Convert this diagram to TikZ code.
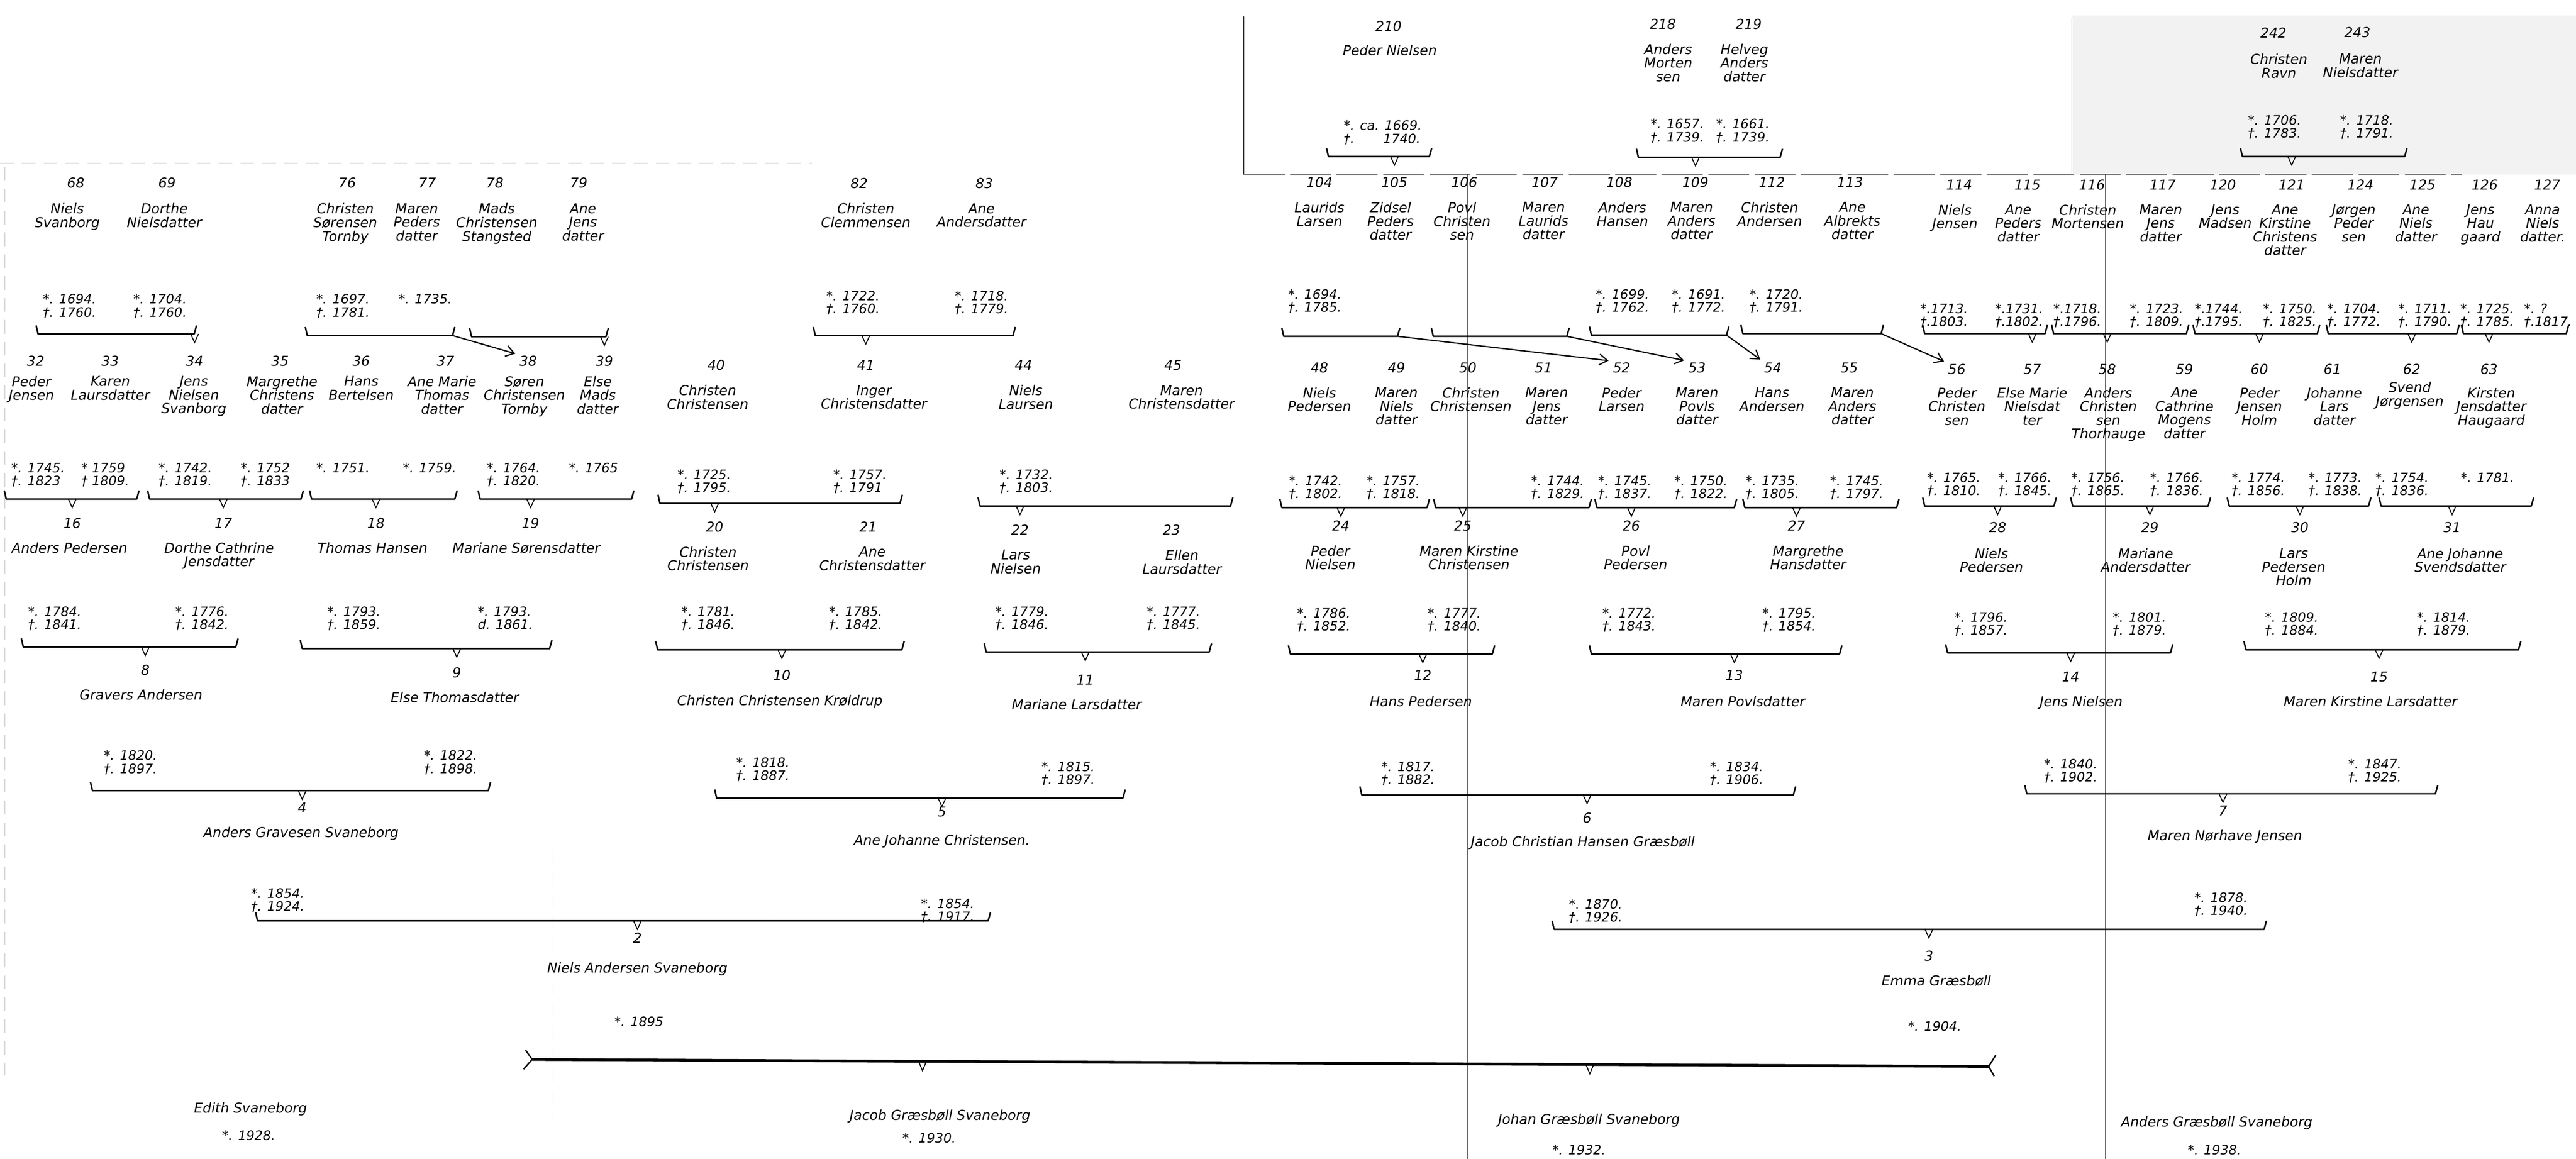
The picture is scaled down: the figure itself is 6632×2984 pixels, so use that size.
\documentclass[tikz,border=0pt]{standalone}
\usepackage{fontspec}
\setmainfont{DejaVu Sans}[ItalicFont={DejaVu Sans Oblique}]
\usetikzlibrary{arrows.meta}

\tikzset{
  num/.style={font=\fontsize{10}{10}\selectfont\itshape, inner sep=1pt},
  who/.style={font=\fontsize{10}{10}\selectfont\itshape, align=center, anchor=north, inner sep=0pt},
  dates/.style={font=\fontsize{9.5}{9.5}\selectfont\itshape, align=left, anchor=north, inner sep=0pt},
  bar/.style={line width=1.1pt, line join=round},
  vee/.style={line width=0.7pt},
  kin/.style={line width=0.9pt, -{Straight Barb[length=6pt,width=8pt]}, shorten >=2pt},
  sheet/.style={black!75, line width=0.6pt},
  fold/.style={black!25, line width=0.4pt, dash pattern=on 10pt off 6pt}
}

% couple bracket: left end, right end, height, child
\newcommand{\couple}[4]{%
  \draw[bar] (#1,#3) ++(-5,-22) -- ++(5,22) -- (#2,#3) -- ++(6,-22);
  \draw[vee] (#4 |- 0,#3) ++(-10,0) -- ++(10,22) -- ++(10,-22);}

\begin{document}
\begin{tikzpicture}[x={(0.01cm,0)}, y={(0,-0.01cm)}]
    \useasboundingbox (0,0) rectangle (6632,2984);
    \fill[white] (0,0) rectangle (6632,2984);
    % sheet edges and folds
    \fill[black!5] (5334,40) rectangle (6632,449);
    \draw[sheet] (3202,42) -- (3202,449);
    \draw[sheet] (5334,46) -- (5334,449);
    \draw[sheet, dash pattern=on 30pt off 4pt] (3202,449) -- (6337,449);
    \draw[sheet] (3778,449) -- (3778,2984);
    \draw[sheet] (5421,449) -- (5421,2984);
    \draw[fold, black!15] (0,420) -- (2090,420);
    \draw[fold] (12,430) -- (12,2770);
    \draw[fold] (1995,506) -- (1995,2660);
    \draw[fold] (1424,2190) -- (1424,2878);

    % 210, 218-219, 242-243
    \node[num] (n210) at (3575,67) {210};
    \node[who] (p210) at (3578,115) {Peder Nielsen};
    \node[dates] (d210) at (3560,310) {*. ca. 1669.\\†. \phantom{ca.} 1740.};
    \node[num] (n218) at (4281,62) {218};
    \node[num] (n219) at (4502,62) {219};
    \node[who] (p218) at (4295,112) {Anders\\Morten\\sen};
    \node[who] (p219) at (4491,112) {Helveg\\Anders\\datter};
    \node[dates] (d218) at (4318,306) {*. 1657.\\†. 1739.};
    \node[dates] (d219) at (4487,306) {*. 1661.\\†. 1739.};
    \node[num] (n242) at (5853,84) {242};
    \node[num] (n243) at (6069,84) {243};
    \node[who] (p242) at (5867,138) {Christen\\Ravn};
    \node[who] (p243) at (6077,138) {Maren\\Nielsdatter};
    \node[dates] (d242) at (5856,296) {*. 1706.\\†. 1783.};
    \node[dates] (d243) at (6093,296) {*. 1718.\\†. 1791.};

    % 68-127
    \node[num] (n68) at (195,470) {68};
    \node[num] (n69) at (430,470) {69};
    \node[num] (n76) at (894,470) {76};
    \node[num] (n77) at (1100,470) {77};
    \node[num] (n78) at (1274,470) {78};
    \node[num] (n79) at (1490,470) {79};
    \node[who] (p68) at (173,523) {Niels\\Svanborg};
    \node[who] (p69) at (423,523) {Dorthe\\Nielsdatter};
    \node[who] (p76) at (889,523) {Christen\\Sørensen\\Tornby};
    \node[who] (p77) at (1073,523) {Maren\\Peders\\datter};
    \node[who] (p78) at (1279,523) {Mads\\Christensen\\Stangsted};
    \node[who] (p79) at (1501,523) {Ane\\Jens\\datter};
    \node[dates] (d68) at (179,757) {*. 1694.\\†. 1760.};
    \node[dates] (d69) at (412,757) {*. 1704.\\†. 1760.};
    \node[dates] (d76) at (883,757) {*. 1697.\\†. 1781.};
    \node[dates] (d77) at (1095,757) {*. 1735.};

    \node[num] (n82) at (2212,472) {82};
    \node[num] (n83) at (2534,472) {83};
    \node[who] (p82) at (2229,523) {Christen\\Clemmensen};
    \node[who] (p83) at (2527,523) {Ane\\Andersdatter};
    \node[dates] (d82) at (2196,748) {*. 1722.\\†. 1760.};
    \node[dates] (d83) at (2527,748) {*. 1718.\\†. 1779.};

    \node[num] (n104) at (3397,469) {104};
    \node[num] (n105) at (3590,469) {105};
    \node[num] (n106) at (3770,469) {106};
    \node[num] (n107) at (3977,469) {107};
    \node[num] (n108) at (4169,469) {108};
    \node[num] (n109) at (4365,469) {109};
    \node[num] (n112) at (4562,469) {112};
    \node[num] (n113) at (4763,469) {113};
    \node[who] (p104) at (3397,520) {Laurids\\Larsen};
    \node[who] (p105) at (3580,520) {Zidsel\\Peders\\datter};
    \node[who] (p106) at (3764,520) {Povl\\Christen\\sen};
    \node[who] (p107) at (3974,520) {Maren\\Laurids\\datter};
    \node[who] (p108) at (4177,520) {Anders\\Hansen};
    \node[who] (p109) at (4355,520) {Maren\\Anders\\datter};
    \node[who] (p112) at (4556,520) {Christen\\Andersen};
    \node[who] (p113) at (4769,520) {Ane\\Albrekts\\datter};
    \node[dates] (d104) at (3385,744) {*. 1694.\\†. 1785.};
    \node[dates] (d108) at (4177,744) {*. 1699.\\†. 1762.};
    \node[dates] (d109) at (4373,744) {*. 1691.\\†. 1772.};
    \node[dates] (d112) at (4573,744) {*. 1720.\\†. 1791.};

    \node[num] (n114) at (5044,476) {114};
    \node[num] (n115) at (5220,476) {115};
    \node[num] (n116) at (5386,476) {116};
    \node[num] (n117) at (5568,476) {117};
    \node[num] (n120) at (5723,476) {120};
    \node[num] (n121) at (5900,476) {121};
    \node[num] (n124) at (6077,476) {124};
    \node[num] (n125) at (6237,476) {125};
    \node[num] (n126) at (6397,476) {126};
    \node[num] (n127) at (6558,476) {127};
    \node[who] (p114) at (5033,526) {Niels\\Jensen};
    \node[who] (p115) at (5196,526) {Ane\\Peders\\datter};
    \node[who] (p116) at (5375,526) {Christen\\Mortensen};
    \node[who] (p117) at (5563,526) {Maren\\Jens\\datter};
    \node[who] (p120) at (5729,526) {Jens\\Madsen};
    \node[who] (p121) at (5883,526) {Ane\\Kirstine\\Christens\\datter};
    \node[who] (p124) at (6060,526) {Jørgen\\Peder\\sen};
    \node[who] (p125) at (6220,526) {Ane\\Niels\\datter};
    \node[who] (p126) at (6386,526) {Jens\\Hau\\gaard};
    \node[who] (p127) at (6546,526) {Anna\\Niels\\datter.};
    \node[dates] (d114) at (5005,782) {*.1713.\\†.1803.};
    \node[dates] (d115) at (5198,782) {*.1731.\\†.1802.};
    \node[dates] (d116) at (5348,782) {*.1718.\\†.1796.};
    \node[dates] (d117) at (5552,782) {*. 1723.\\†. 1809.};
    \node[dates] (d120) at (5712,782) {*.1744.\\†.1795.};
    \node[dates] (d121) at (5895,782) {*. 1750.\\†. 1825.};
    \node[dates] (d124) at (6060,782) {*. 1704.\\†. 1772.};
    \node[dates] (d125) at (6243,782) {*. 1711.\\†. 1790.};
    \node[dates] (d126) at (6403,782) {*. 1725.\\†. 1785.};
    \node[dates] (d127) at (6560,782) {*. ?\\†.1817.};

    % 32-63
    \node[num] (n32) at (92,930) {32};
    \node[num] (n33) at (284,930) {33};
    \node[num] (n34) at (501,930) {34};
    \node[num] (n35) at (721,930) {35};
    \node[num] (n36) at (930,930) {36};
    \node[num] (n37) at (1147,930) {37};
    \node[num] (n38) at (1360,930) {38};
    \node[num] (n39) at (1556,930) {39};
    \node[who] (p32) at (81,968) {Peder\\Jensen};
    \node[who] (p33) at (284,968) {Karen\\Laursdatter};
    \node[who] (p34) at (499,968) {Jens\\Nielsen\\Svanborg};
    \node[who] (p35) at (726,968) {Margrethe\\Christens\\datter};
    \node[who] (p36) at (930,968) {Hans\\Bertelsen};
    \node[who] (p37) at (1138,968) {Ane Marie\\Thomas\\datter};
    \node[who] (p38) at (1350,968) {Søren\\Christensen\\Tornby};
    \node[who] (p39) at (1539,968) {Else\\Mads\\datter};
    \node[dates] (d32) at (98,1191) {*. 1745.\\†. 1823};
    \node[dates] (d33) at (271,1191) {* 1759\\† 1809.};
    \node[dates] (d34) at (477,1191) {*. 1742.\\†. 1819.};
    \node[dates] (d35) at (683,1191) {*. 1752\\†. 1833};
    \node[dates] (d36) at (883,1191) {*. 1751.};
    \node[dates] (d37) at (1106,1191) {*. 1759.};
    \node[dates] (d38) at (1322,1191) {*. 1764.\\†. 1820.};
    \node[dates] (d39) at (1528,1191) {*. 1765};

    \node[num] (n40) at (1844,940) {40};
    \node[num] (n41) at (2229,940) {41};
    \node[num] (n44) at (2635,940) {44};
    \node[num] (n45) at (3020,940) {45};
    \node[who] (p40) at (1822,991) {Christen\\Christensen};
    \node[who] (p41) at (2250,991) {Inger\\Christensdatter};
    \node[who] (p44) at (2641,991) {Niels\\Laursen};
    \node[who] (p45) at (3042,991) {Maren\\Christensdatter};
    \node[dates] (d40) at (1813,1209) {*. 1725.\\†. 1795.};
    \node[dates] (d41) at (2214,1209) {*. 1757.\\†. 1791};
    \node[dates] (d44) at (2642,1209) {*. 1732.\\†. 1803.};

    \node[num] (n48) at (3397,947) {48};
    \node[num] (n49) at (3595,947) {49};
    \node[num] (n50) at (3779,947) {50};
    \node[num] (n51) at (3974,947) {51};
    \node[num] (n52) at (4175,947) {52};
    \node[num] (n53) at (4369,947) {53};
    \node[num] (n54) at (4564,947) {54};
    \node[num] (n55) at (4761,947) {55};
    \node[who] (p48) at (3397,997) {Niels\\Pedersen};
    \node[who] (p49) at (3595,997) {Maren\\Niels\\datter};
    \node[who] (p50) at (3787,997) {Christen\\Christensen};
    \node[who] (p51) at (3982,997) {Maren\\Jens\\datter};
    \node[who] (p52) at (4175,997) {Peder\\Larsen};
    \node[who] (p53) at (4369,997) {Maren\\Povls\\datter};
    \node[who] (p54) at (4562,997) {Hans\\Andersen};
    \node[who] (p55) at (4769,997) {Maren\\Anders\\datter};
    \node[dates] (d48) at (3387,1224) {*. 1742.\\†. 1802.};
    \node[dates] (d49) at (3587,1224) {*. 1757.\\†. 1818.};
    \node[dates] (d51) at (4010,1224) {*. 1744.\\†. 1829.};
    \node[dates] (d52) at (4183,1224) {*. 1745.\\†. 1837.};
    \node[dates] (d53) at (4379,1224) {*. 1750.\\†. 1822.};
    \node[dates] (d54) at (4563,1224) {*. 1735.\\†. 1805.};
    \node[dates] (d55) at (4780,1224) {*. 1745.\\†. 1797.};

    \node[num] (n56) at (5038,951) {56};
    \node[num] (n57) at (5232,951) {57};
    \node[num] (n58) at (5425,951) {58};
    \node[num] (n59) at (5624,951) {59};
    \node[num] (n60) at (5817,951) {60};
    \node[num] (n61) at (6005,951) {61};
    \node[num] (n62) at (6209,951) {62};
    \node[num] (n63) at (6408,951) {63};
    \node[who] (p56) at (5038,997) {Peder\\Christen\\sen};
    \node[who] (p57) at (5232,997) {Else Marie\\Nielsdat\\ter};
    \node[who] (p58) at (5428,997) {Anders\\Christen\\sen\\Thorhauge};
    \node[who] (p59) at (5624,997) {Ane\\Cathrine\\Mogens\\datter};
    \node[who] (p60) at (5817,997) {Peder\\Jensen\\Holm};
    \node[who] (p61) at (6010,997) {Johanne\\Lars\\datter};
    \node[who] (p62) at (6204,983) {Svend\\Jørgensen};
    \node[who] (p63) at (6414,997) {Kirsten\\Jensdatter\\Haugaard};
    \node[dates] (d56) at (5030,1217) {*. 1765.\\†. 1810.};
    \node[dates] (d57) at (5213,1217) {*. 1766.\\†. 1845.};
    \node[dates] (d58) at (5401,1217) {*. 1756.\\†. 1865.};
    \node[dates] (d59) at (5604,1217) {*. 1766.\\†. 1836.};
    \node[dates] (d60) at (5814,1217) {*. 1774.\\†. 1856.};
    \node[dates] (d61) at (6012,1217) {*. 1773.\\†. 1838.};
    \node[dates] (d62) at (6184,1217) {*. 1754.\\†. 1836.};
    \node[dates] (d63) at (6404,1217) {*. 1781.};

    % 16-31
    \node[num] (n16) at (186,1347) {16};
    \node[num] (n17) at (575,1347) {17};
    \node[num] (n18) at (968,1347) {18};
    \node[num] (n19) at (1366,1347) {19};
    \node[who] (p16) at (179,1396) {Anders Pedersen};
    \node[who] (p17) at (564,1396) {Dorthe Cathrine\\Jensdatter};
    \node[who] (p18) at (959,1396) {Thomas Hansen};
    \node[who] (p19) at (1355,1396) {Mariane Sørensdatter};
    \node[dates] (d16) at (141,1561) {*. 1784.\\†. 1841.};
    \node[dates] (d17) at (520,1561) {*. 1776.\\†. 1842.};
    \node[dates] (d18) at (911,1561) {*. 1793.\\†. 1859.};
    \node[dates] (d19) at (1301,1561) {*. 1793.\\d. 1861.};

    \node[num] (n20) at (1840,1357) {20};
    \node[num] (n21) at (2235,1357) {21};
    \node[num] (n22) at (2626,1364) {22};
    \node[num] (n23) at (3016,1364) {23};
    \node[who] (p20) at (1823,1407) {Christen\\Christensen};
    \node[who] (p21) at (2246,1407) {Ane\\Christensdatter};
    \node[who] (p22) at (2615,1415) {Lars\\Nielsen};
    \node[who] (p23) at (3043,1415) {Ellen\\Laursdatter};
    \node[dates] (d20) at (1823,1561) {*. 1781.\\†. 1846.};
    \node[dates] (d21) at (2203,1561) {*. 1785.\\†. 1842.};
    \node[dates] (d22) at (2631,1561) {*. 1779.\\†. 1846.};
    \node[dates] (d23) at (3021,1561) {*. 1777.\\†. 1845.};

    \node[num] (n24) at (3452,1354) {24};
    \node[num] (n25) at (3766,1354) {25};
    \node[num] (n26) at (4200,1354) {26};
    \node[num] (n27) at (4625,1354) {27};
    \node[who] (p24) at (3425,1404) {Peder\\Nielsen};
    \node[who] (p25) at (3782,1404) {Maren Kirstine\\Christensen};
    \node[who] (p26) at (4211,1404) {Povl\\Pedersen};
    \node[who] (p27) at (4655,1404) {Margrethe\\Hansdatter};
    \node[dates] (d24) at (3408,1565) {*. 1786.\\†. 1852.};
    \node[dates] (d25) at (3744,1565) {*. 1777.\\†. 1840.};
    \node[dates] (d26) at (4194,1565) {*. 1772.\\†. 1843.};
    \node[dates] (d27) at (4606,1565) {*. 1795.\\†. 1854.};

    \node[num] (n28) at (5143,1358) {28};
    \node[num] (n29) at (5535,1358) {29};
    \node[num] (n30) at (5921,1358) {30};
    \node[num] (n31) at (6313,1358) {31};
    \node[who] (p28) at (5127,1411) {Niels\\Pedersen};
    \node[who] (p29) at (5524,1411) {Mariane\\Andersdatter};
    \node[who] (p30) at (5905,1411) {Lars\\Pedersen\\Holm};
    \node[who] (p31) at (6334,1411) {Ane Johanne\\Svendsdatter};
    \node[dates] (d28) at (5100,1576) {*. 1796.\\†. 1857.};
    \node[dates] (d29) at (5508,1576) {*. 1801.\\†. 1879.};
    \node[dates] (d30) at (5900,1576) {*. 1809.\\†. 1884.};
    \node[dates] (d31) at (6291,1576) {*. 1814.\\†. 1879.};

    % 8-15
    \node[num] (n8) at (374,1725) {8};
    \node[num] (n9) at (1176,1732) {9};
    \node[num] (n10) at (2013,1739) {10};
    \node[num] (n11) at (2794,1750) {11};
    \node[num] (n12) at (3663,1739) {12};
    \node[num] (n13) at (4465,1739) {13};
    \node[num] (n14) at (5331,1743) {14};
    \node[num] (n15) at (6125,1743) {15};
    \node[who] (p8) at (363,1774) {Gravers Andersen};
    \node[who] (p9) at (1171,1781) {Else Thomasdatter};
    \node[who] (p10) at (2008,1789) {Christen Christensen Krøldrup};
    \node[who] (p11) at (2772,1800) {Mariane Larsdatter};
    \node[who] (p12) at (3658,1792) {Hans Pedersen};
    \node[who] (p13) at (4487,1792) {Maren Povlsdatter};
    \node[who] (p14) at (5358,1792) {Jens Nielsen};
    \node[who] (p15) at (6103,1792) {Maren Kirstine Larsdatter};
    \node[dates] (d8) at (336,1932) {*. 1820.\\†. 1897.};
    \node[dates] (d9) at (1160,1932) {*. 1822.\\†. 1898.};
    \node[dates] (d10) at (1964,1950) {*. 1818.\\†. 1887.};
    \node[dates] (d11) at (2750,1961) {*. 1815.\\†. 1897.};
    \node[dates] (d12) at (3625,1961) {*. 1817.\\†. 1882.};
    \node[dates] (d13) at (4471,1961) {*. 1834.\\†. 1906.};
    \node[dates] (d14) at (5331,1954) {*. 1840.\\†. 1902.};
    \node[dates] (d15) at (6114,1954) {*. 1847.\\†. 1925.};

    % 4-7
    \node[num] (n4) at (778,2080) {4};
    \node[num] (n5) at (2425,2091) {5};
    \node[num] (n6) at (4086,2106) {6};
    \node[num] (n7) at (5723,2088) {7};
    \node[who] (p4) at (775,2128) {Anders Gravesen Svaneborg};
    \node[who] (p5) at (2425,2148) {Ane Johanne Christensen.};
    \node[who] (p6) at (4075,2152) {Jacob Christian Hansen Græsbøll};
    \node[who] (p7) at (5728,2137) {Maren Nørhave Jensen};
    \node[dates] (d4) at (715,2287) {*. 1854.\\†. 1924.};
    \node[dates] (d5) at (2440,2313) {*. 1854.\\†. 1917.};
    \node[dates] (d6) at (4108,2315) {*. 1870.\\†. 1926.};
    \node[dates] (d7) at (5718,2298) {*. 1878.\\†. 1940.};

    % 2-3
    \node[num] (n2) at (1641,2415) {2};
    \node[who] (p2) at (1641,2478) {Niels Andersen Svaneborg};
    \node[dates] (d2) at (1645,2617) {*. 1895};
    \node[num] (n3) at (4966,2461) {3};
    \node[who] (p3) at (4985,2510) {Emma Græsbøll};
    \node[dates] (d3) at (4981,2629) {*. 1904.};

    % children
    \node[who] (c1) at (645,2838) {Edith Svaneborg};
    \node[dates] (e1) at (640,2910) {*. 1928.};
    \node[who] (c2) at (2420,2857) {Jacob Græsbøll Svaneborg};
    \node[dates] (e2) at (2392,2917) {*. 1930.};
    \node[who] (c3) at (4091,2868) {Johan Græsbøll Svaneborg};
    \node[dates] (e3) at (4065,2948) {*. 1932.};
    \node[who] (c4) at (5707,2874) {Anders Græsbøll Svaneborg};
    \node[dates] (e4) at (5701,2948) {*. 1938.};

    % brackets
    \couple{3420}{3680}{403}{n105}
    \couple{4218}{4583}{405}{n109}
    \couple{5773}{6191}{403}{n121}
    \couple{98}{500}{860}{n34}
    \couple{1214}{1560}{867}{n39}
    \couple{2099}{2608}{864}{n41}
    \couple{4955}{5265}{859}{n57}
    \couple{5287}{5629}{859}{n58}
    \couple{5651}{5966}{859}{n60}
    \couple{5994}{6325}{859}{n62}
    \couple{6342}{6607}{859}{n63}
    \couple{16}{352}{1285}{n16}
    \couple{385}{775}{1285}{n17}
    \couple{802}{1171}{1285}{n18}
    \couple{1236}{1626}{1285}{n19}
    \couple{1699}{2317}{1296}{n20}
    \couple{2523}{3168}{1303}{n22}
    \couple{3300}{3674}{1307}{n24}
    \couple{3696}{4091}{1307}{n25}
    \couple{4111}{4465}{1307}{n26}
    \couple{4492}{4883}{1307}{n27}
    \couple{4955}{5288}{1303}{n28}
    \couple{5336}{5685}{1303}{n29}
    \couple{5739}{6098}{1303}{n30}
    \couple{6130}{6517}{1303}{n31}
    \couple{60}{607}{1666}{n8}
    \couple{778}{1415}{1670}{n9}
    \couple{1693}{2322}{1673}{n10}
    \couple{2539}{3113}{1679}{n11}
    \couple{3322}{3842}{1684}{n12}
    \couple{4097}{4736}{1684}{n13}
    \couple{5014}{5588}{1681}{n14}
    \couple{5782}{6484}{1673}{n15}
    \couple{238}{1257}{2036}{n4}
    \couple{1845}{2891}{2055}{n5}
    \couple{3506}{4617}{2047}{n6}
    \couple{5218}{6270}{2044}{n7}
    \couple{663}{2544}{2371}{n2}
    \couple{4001}{5829}{2393}{n3}

    % brackets with arrows
    \draw[bar] (791,864) ++(-5,-22) -- ++(5,22) -- (1165,864) coordinate (e76) -- ++(6,-22);
    \draw[kin] (e76) -- (n38.north west);
    \draw[bar] (3305,866) ++(-5,-22) -- ++(5,22) -- (3598,866) coordinate (e104) -- ++(6,-22);
    \draw[kin] (e104) -- (n52.north west);
    \draw[bar] (3690,866) ++(-5,-22) -- ++(5,22) -- (4034,866) coordinate (e106) -- ++(6,-22);
    \draw[kin] (e106) -- (n53.north west);
    \draw[bar] (4097,863) ++(-5,-22) -- ++(5,22) -- (4445,863) coordinate (e108) -- ++(6,-22);
    \draw[kin] (e108) -- (n54.north west);
    \draw[bar] (4487,859) ++(-5,-22) -- ++(5,22) -- (4843,859) coordinate (e112) -- ++(6,-22);
    \draw[kin] (e112) -- (n56.north west);

    % children of 2 and 3
    \draw[line width=2pt] (1370,2728) coordinate (kl) -- (5120,2746) coordinate (kr);
    \draw[line width=1pt] (kl) ++(-17,-24) -- ++(17,24) -- ++(-22,25);
    \draw[line width=1pt] (kr) ++(18,-29) -- ++(-18,29) -- ++(14,25);
    \draw[vee] (c2 |- 0,2733) ++(-55,0) -- ++(10,24) -- ++(10,-24);
    \draw[vee] (c3 |- 0,2741) ++(-8,0) -- ++(10,24) -- ++(10,-24);
\end{tikzpicture}
\end{document}
